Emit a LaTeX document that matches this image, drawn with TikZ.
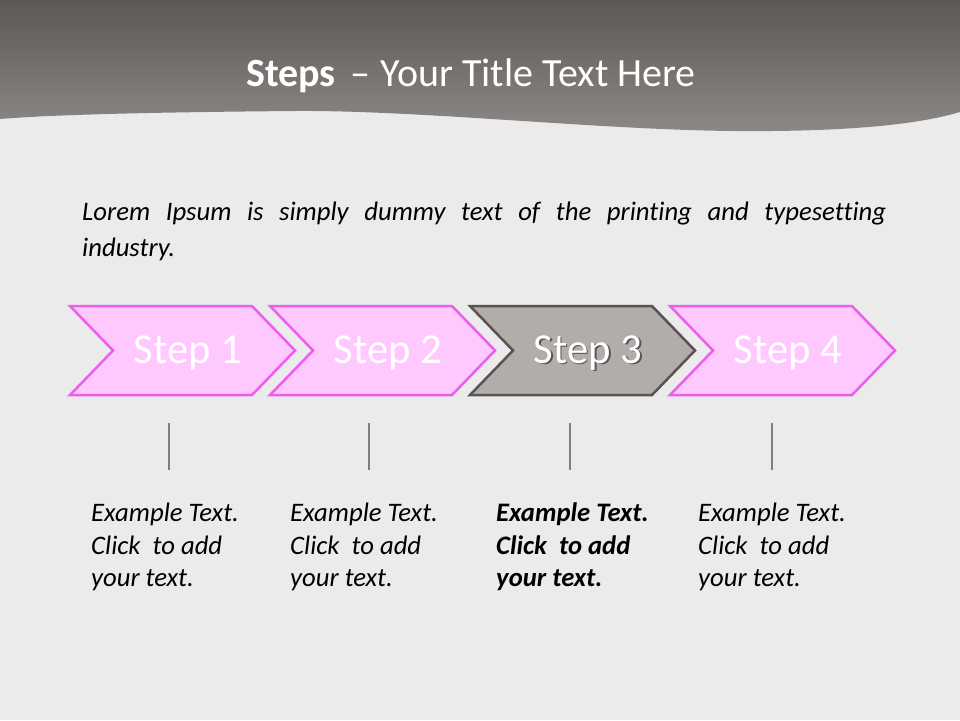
\documentclass[tikz,border=0pt]{standalone}
\usepackage{fontspec}
\setmainfont[Ligatures=NoCommon]{Carlito}
\usepackage{tikz}
\usetikzlibrary{positioning}
\definecolor{paper}{HTML}{EBEBEB}
\definecolor{headtop}{HTML}{5D5856}
\definecolor{headbot}{HTML}{8C8886}
\definecolor{pinkfill}{HTML}{FFC8FF}
\definecolor{pinkline}{HTML}{EE5EEE}
\definecolor{grayfill}{HTML}{B2ADAB}
\definecolor{grayline}{HTML}{595352}
\definecolor{tickgray}{HTML}{808080}
\definecolor{shadowgray}{HTML}{5A5555}

\begin{document}
\begin{tikzpicture}[x=1pt,y=-1pt]
\tikzstyle{chev}=[line width=2.5pt, line join=miter, draw=pinkline, fill=pinkfill]
\tikzstyle{chevsel}=[chev, draw=grayline, fill=grayfill]
\tikzstyle{steptext}=[anchor=base, inner sep=0pt, text=white, font=\fontsize{42.7}{50}\selectfont]
\tikzstyle{desc}=[anchor=north west, align=left, inner sep=0pt, font=\itshape\fontsize{26.7}{32.5}\selectfont]
\tikzstyle{tick}=[draw=tickgray, line width=2.3pt]
\useasboundingbox (0,0) rectangle (960,720);
% paper and header band
\fill[paper] (0,0) rectangle (960,720);
\shade[top color=headtop, bottom color=headbot] (0,0) -- (960,0) -- (960,112)
  .. controls (920,124) and (850,132) .. (735,131)
  .. controls (600,130) and (420,110) .. (294,111)
  .. controls (180,112) and (60,114) .. (0,119) -- cycle;
\node[text=white, anchor=base, font=\fontsize{40}{48}\selectfont] (title) at (471,86)
  {\textbf{Steps}\hspace{15pt}--\hspace{10pt}Your Title Text Here};
\node[anchor=north west, inner sep=0pt, text width=804pt, align=justify,
  font=\itshape\fontsize{26.7}{36}\selectfont] (lorem) at (82,202)
  {Lorem Ipsum is simply dummy text of the printing and typesetting\linebreak industry.};
% chevrons
\path[chev]	(70,306) -- ++(182,0) -- ++(43,44.5) -- ++(-43,44.5) -- ++(-182,0) -- ++(43,-44.5) -- cycle;
\path[chev]	(270,306) -- ++(182,0) -- ++(43,44.5) -- ++(-43,44.5) -- ++(-182,0) -- ++(43,-44.5) -- cycle;
\path[chevsel]	(470,306) -- ++(182,0) -- ++(43,44.5) -- ++(-43,44.5) -- ++(-182,0) -- ++(43,-44.5) -- cycle;
\path[chev]	(670,306) -- ++(182,0) -- ++(43,44.5) -- ++(-43,44.5) -- ++(-182,0) -- ++(43,-44.5) -- cycle;
% steps
\node[steptext]	(s1)	at (188,363)	{Step 1};
\node[steptext]	(s2)	at (388,363)	{Step 2};
\node[steptext]	(s3)	at (588,363)	{\rlap{\hspace{1.5pt}\raisebox{-1.5pt}{\textcolor{shadowgray}{Step 3}}}Step 3};
\node[steptext]	(s4)	at (788,363)	{Step 4};
% ticks
\coordinate (t1) at (169,423);	\coordinate (b1) at (169,470);
\coordinate (t2) at (369,423);	\coordinate (b2) at (369,470);
\coordinate (t3) at (570,423);	\coordinate (b3) at (570,470);
\coordinate (t4) at (772,423);	\coordinate (b4) at (772,470);
\path[tick] (t1) -- (b1)
	(t2) -- (b2)
	(t3) -- (b3)
	(t4) -- (b4);
% texts
\node[desc]	(d1)	at (91,503)	{Example Text.\\Click~ to add\\your text.};
\node[desc]	(d2)	at (290,503)	{Example Text.\\Click~ to add\\your text.};
\node[desc, font=\bfseries\itshape\fontsize{26.7}{32.5}\selectfont]	(d3)	at (496,503)	{Example Text.\\Click~ to add\\your text.};
\node[desc]	(d4)	at (698,503)	{Example Text.\\Click~ to add\\your text.};
\end{tikzpicture}
\end{document}
